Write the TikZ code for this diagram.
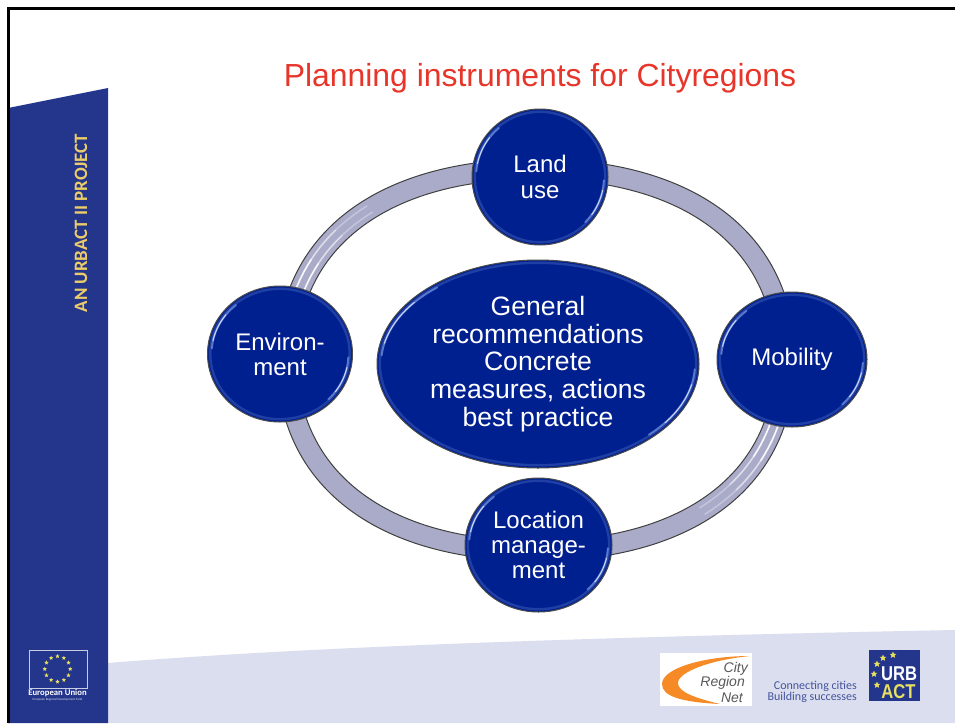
\documentclass[tikz,border=0pt]{standalone}
\usepackage{fontspec}
\setmainfont{Liberation Sans}
\newfontfamily\lato{Carlito}
\usetikzlibrary{shapes.geometric,calc}
\definecolor{band}{HTML}{24368C}
\definecolor{pale}{HTML}{DADEEE}
\definecolor{nodeblue}{HTML}{00208F}
\definecolor{rimblue}{HTML}{7F9BE8}
\definecolor{ringfill}{HTML}{A9ABC9}
\definecolor{titlered}{HTML}{E8352A}
\definecolor{gold}{HTML}{EBCB6A}
\definecolor{swoosh}{HTML}{F58A26}
\definecolor{estar}{HTML}{E8E060}
\tikzset{
  bubble/.style={ellipse,draw=black!70,line width=1pt,fill=nodeblue,text=white,align=center,inner sep=0pt,font=\fontsize{24}{25}\selectfont},
  ringline/.style={draw=black!75,line width=1pt},
  logotext/.style={font=\lato\fontsize{12}{12}\selectfont,text=band!85!white,align=right,inner sep=0pt},
  citytext/.style={font=\itshape\fontsize{14}{14}\selectfont,text=black!65,inner sep=0pt,anchor=east},
  urbtext/.style={font=\bfseries\fontsize{20}{20}\selectfont,inner sep=0pt,xscale=.83,transform shape,text height=14.4pt,text depth=0pt},
  euro/.style={star,star points=5,star point ratio=2.2,fill=#1,inner sep=0pt,minimum size=9pt},
}
% closed rounded ring outline: half axes #1, #2, with control factor .62
\newcommand{\ringpath}[2]{
  (0,-#2) .. controls ({.62*#1},-#2) and (#1,{-.62*#2}) .. (#1,0)
  .. controls (#1,{.62*#2}) and ({.62*#1},#2) .. (0,#2)
  .. controls ({-.62*#1},#2) and (-#1,{.62*#2}) .. (-#1,0)
  .. controls (-#1,{-.62*#2}) and ({-.62*#1},-#2) .. (0,-#2) -- cycle}
\begin{document}
\begin{tikzpicture}[x=1pt,y=-1pt]
\useasboundingbox (0,0) rectangle (955,723);
\fill[white] (0,0) rectangle (955,723);
% footer band and side band
\fill[pale] (108,663) .. controls (330,645) and (650,636) .. (955,630) -- (955,723) -- (108,723) -- cycle;
\fill[band] (8,108) -- (108,88) -- (108,723) -- (8,723) -- cycle;
\draw[black,line width=2.7pt] (8.7,723) -- (8.7,8.7) -- (955,8.7);
% side text
\node[rotate=90,text=gold,font=\lato\bfseries\fontsize{18.9}{19}\selectfont,inner sep=0pt] (sidetext) at (81,223) {AN URBACT II PROJECT};
% title
\node[text=titlered,font=\fontsize{31.9}{34}\selectfont,inner sep=0pt] (title) at (540,78) {Planning instruments for Cityregions};
% ring
\begin{scope}[shift={(536,360)}]
  \path[ringline,fill=ringfill] \ringpath{259}{201};
  \path[ringline,fill=white] \ringpath{239}{181};
  % ring highlights
  \foreach \s/\e/\o in {.2/.32/.95,.32/.44/.6,.44/.56/.3}{
    \foreach \a/\b in {245/187,253/195}{
      \foreach \m in {1,-1}{
        \draw[white,line width=1.6pt,draw opacity=\o] plot[domain=\s:\e,samples=6,variable=\t]
          ({\m*\a*((1-\t)^3+3*(1-\t)^2*\t+3*(1-\t)*\t^2*.62)},{\m*\b*(3*(1-\t)^2*\t*.62+3*(1-\t)*\t^2+\t^3)});
      }
    }
  }
\end{scope}
% bubbles
\node[bubble,minimum width=322pt,minimum height=208pt,font=\fontsize{26.6}{27.7}\selectfont] (centre) at (538,364) {General\\recommendations\\Concrete\\measures, actions\\best practice};
\node[bubble,minimum width=136pt,minimum height=136pt,font=\fontsize{24}{26}\selectfont] (land) at (540,177) {Land\\use};
\node[bubble,minimum width=145pt,minimum height=136pt,font=\fontsize{24}{25}\selectfont] (env) at (280,354) {Environ-\\ment};
\node[bubble,minimum width=150pt,minimum height=135pt,font=\fontsize{24}{25}\selectfont] (mob) at (792,359.5) {Mobility};
\node[bubble,minimum width=147pt,minimum height=134pt,font=\fontsize{24}{25}\selectfont] (loc) at (538.5,545) {Location\\manage-\\ment};
% rim highlights
\foreach \n/\rx/\ry in {land/64/64,env/68.5/64,mob/71/63.5,loc/69.5/63,centre/157/100}{
  \begin{scope}[shift={(\n.center)}]
    \draw[rimblue!25!nodeblue,line width=2.4pt] (0,0) ellipse[x radius=\rx pt+1.2pt,y radius=\ry pt+1.2pt];
    \draw[rimblue!70!nodeblue,line width=2pt,line cap=round] (175:\rx pt and \ry pt) arc[start angle=175,end angle=130,x radius=\rx pt,y radius=\ry pt];
    \draw[rimblue!70!nodeblue,line width=2pt,line cap=round] (-45:\rx pt and \ry pt) arc[start angle=-45,end angle=-3,x radius=\rx pt,y radius=\ry pt];
    \draw[white!65!rimblue,line width=.9pt,line cap=round] (168:\rx pt and \ry pt) arc[start angle=168,end angle=142,x radius=\rx pt,y radius=\ry pt];
    \draw[white!65!rimblue,line width=.9pt,line cap=round] (-36:\rx pt and \ry pt) arc[start angle=-36,end angle=-12,x radius=\rx pt,y radius=\ry pt];
  \end{scope}
}
% EU logo
\draw[white!75!band,line width=.7pt] (29,650) rectangle (87,688);
\foreach \a in {0,30,...,330}{\node[euro=estar,minimum size=4.5pt] at ($(57.5,669)+(\a:12.7pt)$) {};}
\node[text=white,font=\lato\bfseries\fontsize{8.7}{9}\selectfont,inner sep=0pt] (eu) at (57.5,693.5) {European Union};
\node[text=white!85!band,font=\lato\fontsize{3.2}{4}\selectfont,inner sep=0pt] (eusub) at (57.5,700) {European Regional Development Fund};
% City Region Net logo
\fill[white] (660,653) rectangle (752,706);
\fill[swoosh] (750,656) .. controls (705,656) and (662,668) .. (662,684) .. controls (662,696) and (680,702) .. (720,704)
  .. controls (695,698) and (678,692) .. (678,683) .. controls (678,672) and (710,660) .. (750,656) -- cycle;
\node[citytext] (c1) at (748,669) {City};
\node[citytext] (c2) at (745,683) {Region};
\node[citytext] (c3) at (743,698) {Net};
% tagline
\node[logotext,anchor=east] (t1) at (857,686.5) {Connecting cities};
\node[logotext,anchor=east] (t2) at (857,697) {Building successes};
% URBACT logo
\fill[band] (869,650) rectangle (920,701);
\node[urbtext,text=white] (u1) at (899,673) {URB};
\node[urbtext,text=estar] (u2) at (898.5,691.5) {ACT};
\foreach \p in {(893,655),(883,658),(877,664),(874,674),(877,685)}{\node[euro=estar,minimum size=7pt] at \p {};}
\end{tikzpicture}
\end{document}
